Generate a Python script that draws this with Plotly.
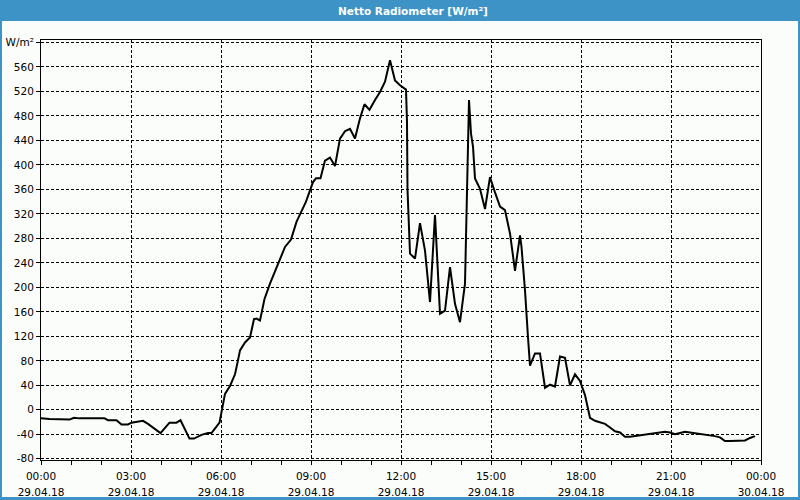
import plotly.graph_objects as go

# ---- data ----
times = [
    "00:00", "00:17", "00:57", "01:06", "01:17", "02:07", "02:14", "02:31", "02:41", "02:54",
    "03:01", "03:14", "03:24", "03:34", "03:59", "04:17", "04:31", "04:39", "04:57", "05:06",
    "05:21", "05:34", "05:41", "05:57", "06:01", "06:08", "06:18", "06:28", "06:33", "06:38",
    "06:48", "06:58", "07:06", "07:11", "07:18", "07:27", "07:38", "07:51", "08:08", "08:20",
    "08:31", "08:50", "09:04", "09:10", "09:19", "09:28", "09:38", "09:48", "09:58", "10:08",
    "10:18", "10:28", "10:38", "10:47", "10:57", "11:08", "11:18", "11:28", "11:38", "11:48",
    "11:58", "12:10", "12:12", "12:13", "12:15", "12:18", "12:28", "12:38", "12:48", "12:58",
    "13:08", "13:18", "13:28", "13:38", "13:48", "13:58", "14:08", "14:13", "14:16", "14:20",
    "14:24", "14:28", "14:38", "14:48", "14:58", "15:08", "15:18", "15:28", "15:38", "15:48",
    "15:58", "16:01", "16:08", "16:14", "16:18", "16:28", "16:38", "16:48", "16:58", "17:08",
    "17:18", "17:28", "17:38", "17:48", "17:58", "18:08", "18:18", "18:28", "18:38", "18:48",
    "18:58", "19:08", "19:18", "19:28", "19:38", "19:48", "19:58", "20:08", "20:18", "20:28",
    "20:38", "20:48", "20:58", "21:08", "21:18", "21:28", "21:38", "21:48", "21:58", "22:08",
    "22:18", "22:28", "22:38", "22:48", "22:58", "23:08", "23:18", "23:28", "23:38", "23:48",
]
values = [
    -14, -15, -16, -13, -14, -14, -17, -17, -24, -24,
    -21, -20, -18, -23, -38, -21, -21, -17, -47, -47,
    -41, -38, -38, -21, -2, 26, 39, 58, 77, 97,
    110, 118, 148, 149, 146, 181, 206, 233, 266, 278,
    307, 340, 372, 378, 378, 407, 412, 398, 443, 455,
    459, 443, 476, 499, 490, 506, 519, 536, 571, 538,
    530, 523, 470, 360, 309, 255, 247, 305, 260, 176,
    318, 157, 162, 233, 173, 143, 206, 383, 506, 451,
    430, 378, 361, 328, 380, 355, 332, 326, 288, 227,
    285, 266, 195, 118, 72, 92, 92, 36, 41, 38,
    87, 85, 40, 58, 47, 24, -13, -18, -21, -23,
    -29, -35, -37, -44, -44, -43, -41, -40, -39, -38,
    -37, -36, -37, -40, -38, -36, -37, -38, -39, -41,
    -42, -43, -45, -51, -51, -51, -51, -50, -46, -43,
]

day = "2018-04-29"
x_tick_hours = ["00:00", "03:00", "06:00", "09:00", "12:00", "15:00", "18:00", "21:00"]
x_tick_dates = ["29.04.18"] * 8 + ["30.04.18"]
x_tick_labels = x_tick_hours + ["00:00"]
y_tick_vals = list(range(-80, 601, 40))
y_tick_text = [str(v) for v in y_tick_vals[:-1]] + ["W/m²"]
title_text = "Netto Radiometer [W/m²]"

x_dt = [f"{day} {t}" for t in times]
x_tick_vals = [f"{day} {t}" for t in x_tick_hours] + ["2018-04-30 00:00"]
SP = "<span style='font-size:10.5px'>"
x_tick_text = [f"{SP}{h}</span><br>{SP}{d}</span>" for h, d in zip(x_tick_labels, x_tick_dates)]

W, H = 800, 500
L, R, T, B = 41, 39, 40, 40
pw, ph = W - L - R, H - T - B


def px_x(x):
    return (x - L) / pw


def px_y(y):
    return (H - B - y) / ph


BLUE = "#3d92c6"
BG = "#fbfdfb"
FONT = "DejaVu Sans"

fig = go.Figure()
fig.add_trace(go.Scatter(x=x_dt, y=values, mode="lines",
                         line=dict(color="black", width=2), hoverinfo="skip"))

fig.update_layout(
    width=W, height=H, autosize=False,
    margin=dict(l=L, r=R, t=T, b=B, autoexpand=False),
    paper_bgcolor=BG, plot_bgcolor=BG,
    showlegend=False,
    font=dict(family=FONT, size=10.5, color="black"),
    xaxis=dict(
        type="date", automargin=False,
        range=["2018-04-29 00:00", "2018-04-30 00:00"],
        tickmode="array", tickvals=x_tick_vals, ticktext=x_tick_text,
        showgrid=True, gridcolor="black", gridwidth=1, griddash="3px,2px",
        showline=True, mirror=True, linecolor="black", linewidth=1,
        ticks="outside", ticklen=4, tickcolor="black", tickwidth=1,
        ticklabelstandoff=0,
        minor=dict(dtick=3600000, tick0="2018-04-29 00:00", ticks="outside",
                   ticklen=4, tickcolor="black", showgrid=False),
        zeroline=False, fixedrange=True,
        tickfont=dict(family=FONT, size=12.3, color="black"),
    ),
    yaxis=dict(
        range=[-82, 604], automargin=False,
        tickmode="array", tickvals=y_tick_vals, ticktext=y_tick_text,
        showgrid=True, gridcolor="black", gridwidth=1, griddash="3px,2px",
        showline=True, mirror=True, linecolor="black", linewidth=1,
        ticks="outside", ticklen=4, tickcolor="black", tickwidth=1,
        zeroline=False, fixedrange=True,
        tickfont=dict(family=FONT, size=10.5, color="black"),
    ),
)

shapes = [
    dict(type="rect", xref="paper", yref="paper",
         x0=px_x(0), x1=px_x(W), y0=px_y(21), y1=px_y(0),
         fillcolor=BLUE, line=dict(width=0), layer="above"),
    dict(type="rect", xref="paper", yref="paper",
         x0=px_x(0), x1=px_x(2), y0=px_y(H), y1=px_y(0),
         fillcolor=BLUE, line=dict(width=0), layer="above"),
    dict(type="rect", xref="paper", yref="paper",
         x0=px_x(W - 2), x1=px_x(W), y0=px_y(H), y1=px_y(0),
         fillcolor=BLUE, line=dict(width=0), layer="above"),
    dict(type="rect", xref="paper", yref="paper",
         x0=px_x(0), x1=px_x(W), y0=px_y(H), y1=px_y(H - 3),
         fillcolor=BLUE, line=dict(width=0), layer="above"),
]
fig.update_layout(shapes=shapes)

fig.add_annotation(
    xref="paper", yref="paper", x=px_x(413), y=px_y(10.5),
    xanchor="center", yanchor="middle", showarrow=False,
    text=f"<b>{title_text}</b>",
    font=dict(family=FONT, size=10.5, color="white"),
)

fig.write_html("out.html", config={"displayModeBar": False})
